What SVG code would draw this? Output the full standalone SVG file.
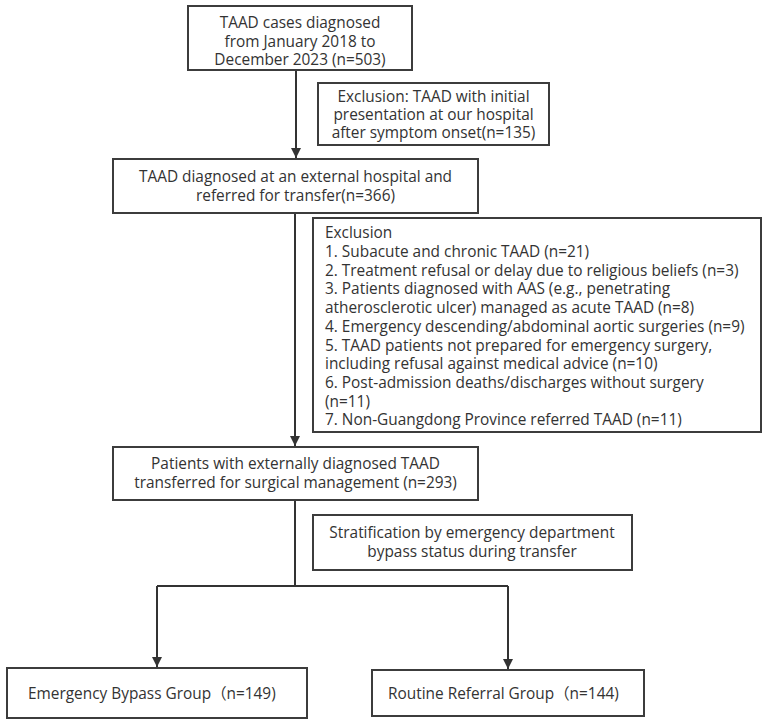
<svg xmlns="http://www.w3.org/2000/svg" width="767" height="726" viewBox="0 0 767 726">
<defs>
<style>
.box{fill:#fff;stroke:#3c3c3c;stroke-width:2}
.t{font-family:"Open Sans","Liberation Sans",Arial,"Noto Sans CJK SC",sans-serif;font-size:15.4px;fill:#333}
.c{text-anchor:middle}
.ln{fill:none;stroke:#333;stroke-width:2}
</style>
<marker id="ah" viewBox="0 0 10 10" refX="10" refY="5" markerWidth="10" markerHeight="10" markerUnits="userSpaceOnUse" orient="auto">
<path d="M0,0 L10,5 L0,10 z" fill="#333"/>
</marker>
</defs>
<rect width="767" height="726" fill="#fff"/>
<g id="connectors">
<line class="ln" x1="296" y1="70" x2="296" y2="158" marker-end="url(#ah)"/>
<line class="ln" x1="295" y1="213" x2="295" y2="446" marker-end="url(#ah)"/>
<polyline class="ln" points="295,500 295,586"/>
<polyline class="ln" points="157,586 508,586"/>
<line class="ln" x1="157" y1="586" x2="157" y2="667" marker-end="url(#ah)"/>
<line class="ln" x1="508" y1="586" x2="508" y2="669" marker-end="url(#ah)"/>
</g>
<g id="n1">
<rect class="box" x="188" y="6" width="224" height="64"/>
<text class="t c" x="300" y="28">TAAD cases diagnosed</text>
<text class="t c" x="300" y="47">from January 2018 to</text>
<text class="t c" x="300" y="65">December 2023 (n=503)</text>
</g>
<g id="n2">
<rect class="box" x="318" y="83" width="231" height="62"/>
<text class="t c" x="433.5" y="102">Exclusion: TAAD with initial</text>
<text class="t c" x="433.5" y="120">presentation at our hospital</text>
<text class="t c" x="433.5" y="138">after symptom onset(n=135)</text>
</g>
<g id="n3">
<rect class="box" x="113" y="159" width="365" height="54"/>
<text class="t c" x="295.5" y="182">TAAD diagnosed at an external hospital and</text>
<text class="t c" x="295.5" y="201">referred for transfer(n=366)</text>
</g>
<g id="n4">
<rect class="box" x="313" y="218" width="448" height="214"/>
<text class="t" x="325" y="238">Exclusion</text>
<text class="t" x="325" y="257">1. Subacute and chronic TAAD (n=21)</text>
<text class="t" x="325" y="276">2. Treatment refusal or delay due to religious beliefs (n=3)</text>
<text class="t" x="325" y="294">3. Patients diagnosed with AAS (e.g., penetrating</text>
<text class="t" x="325" y="313">atherosclerotic ulcer) managed as acute TAAD (n=8)</text>
<text class="t" x="325" y="332">4. Emergency descending/abdominal aortic surgeries (n=9)</text>
<text class="t" x="325" y="351">5. TAAD patients not prepared for emergency surgery,</text>
<text class="t" x="325" y="369">including refusal against medical advice (n=10)</text>
<text class="t" x="325" y="388">6. Post-admission deaths/discharges without surgery</text>
<text class="t" x="325" y="407">(n=11)</text>
<text class="t" x="325" y="425">7. Non-Guangdong Province referred TAAD (n=11)</text>
</g>
<g id="n5">
<rect class="box" x="113" y="447" width="365" height="53"/>
<text class="t c" x="295.5" y="469">Patients with externally diagnosed TAAD</text>
<text class="t c" x="295.5" y="488">transferred for surgical management (n=293)</text>
</g>
<g id="n6">
<rect class="box" x="313" y="515" width="319" height="55"/>
<text class="t c" x="472" y="538">Stratification by emergency department</text>
<text class="t c" x="472" y="557">bypass status during transfer</text>
</g>
<g id="n7">
<rect class="box" x="7" y="668" width="300" height="50"/>
<text class="t" x="28" y="699">Emergency Bypass Group（n=149)</text>
</g>
<g id="n8">
<rect class="box" x="372" y="670" width="272" height="46"/>
<text class="t" x="388" y="699">Routine Referral Group（n=144)</text>
</g>
</svg>
